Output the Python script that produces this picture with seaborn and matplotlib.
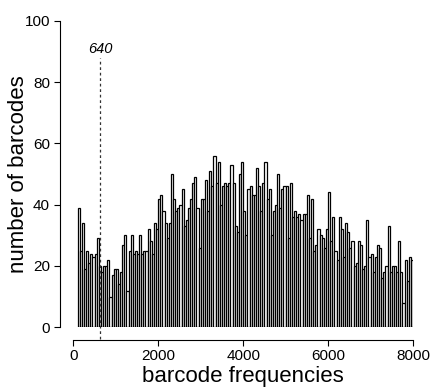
import numpy as np
import pandas as pd
import matplotlib
matplotlib.use("Agg")
import matplotlib.pyplot as plt
import seaborn as sns

# ---- data ----
bin_start = 100
bin_width = 50
counts = [
    39, 25, 34, 19, 25, 21, 24, 23, 24, 29, 20, 18, 20, 20, 22, 10, 17, 19, 19, 14,
    18, 27, 30, 12, 25, 30, 24, 25, 24, 30, 24, 25, 25, 32, 28, 24, 34, 32,
    42, 43, 38, 34, 29, 34,
    50, 42, 38, 39, 40, 45, 33, 35, 39, 42, 47, 49, 39, 26, 42, 42, 48, 38, 51, 46, 56, 47,
    54, 40, 46, 47, 46, 47, 53, 47, 33, 31, 50, 54, 38, 30, 45, 46, 43, 43, 52, 46, 38, 47, 54,
    42, 45, 30, 38, 40, 50, 39, 45, 46, 46, 29, 47, 36, 38, 36, 37, 35, 37, 37, 43, 29, 42, 25,
    27, 32, 30, 29, 26, 32,
    44, 28, 36, 25, 22, 36, 32, 23, 34, 31, 26, 28, 20, 21, 28, 27,
    19, 20, 35, 23, 24, 18, 23, 27, 26, 16, 18, 20, 33, 18, 20, 20, 18, 28, 18, 8, 22, 15, 23, 22,
]
cutoff = 640
cutoff_label = "640"
cutoff_top = 87.7
x_ticks = [0, 2000, 4000, 6000, 8000]
y_ticks = [0, 20, 40, 60, 80, 100]
x_label = "barcode frequencies"
y_label = "number of barcodes"

n_bins = len(counts)
bin_end = bin_start + bin_width * n_bins
centers = bin_start + bin_width * (np.arange(n_bins) + 0.5)
df = pd.DataFrame({"freq": centers, "n": counts})

# ---- style ----
sns.set_style("ticks")
plt.rcParams["font.family"] = ["Liberation Sans", "DejaVu Sans"]
plt.rcParams["text.color"] = "black"
plt.rcParams["axes.labelcolor"] = "black"

fig = plt.figure(figsize=(4.34, 3.9), dpi=100)
ax = fig.add_axes([73.3 / 434, (390 - 327.3) / 390, 339.7 / 434, 306.6 / 390])

sns.histplot(data=df, x="freq", weights="n", binwidth=bin_width,
             binrange=(bin_start, bin_end), stat="count",
             color="white", edgecolor="black", linewidth=0.9, alpha=1,
             ax=ax)

ax.vlines(cutoff, -3.8, cutoff_top, colors="#333333", linestyles=(0, (2.2, 2.2)),
          linewidth=0.9, clip_on=False, zorder=5)
ax.text(cutoff, 89.6, cutoff_label, ha="center", va="baseline",
        fontsize=10.5, fontstyle="italic", color="black")

ax.set_xlim(0, 8000)
ax.set_ylim(0, 100)
ax.set_xticks(x_ticks)
ax.set_yticks(y_ticks)
ax.set_xticklabels([str(v) for v in x_ticks])
ax.set_yticklabels([str(v) for v in y_ticks])

for s in ["top", "right"]:
    ax.spines[s].set_visible(False)
ax.spines["left"].set_position(("outward", 9.6))
ax.spines["bottom"].set_position(("outward", 9.1))
ax.spines["left"].set_bounds(0, 100)
ax.spines["bottom"].set_bounds(0, 8000)
for s in ["left", "bottom"]:
    ax.spines[s].set_linewidth(0.8)
    ax.spines[s].set_color("black")

ax.tick_params(axis="both", direction="out", length=4.3, width=0.8,
               labelsize=11, colors="black")
ax.tick_params(axis="x", pad=2.2)
ax.tick_params(axis="y", pad=2.9)

ax.set_xlabel(x_label, fontsize=16, color="black")
ax.set_ylabel(y_label, fontsize=16, color="black")
ax.xaxis.set_label_coords(0.498, -0.126)
ax.yaxis.set_label_coords(-0.129, 0.5)

fig.savefig("out.png", dpi=100)
